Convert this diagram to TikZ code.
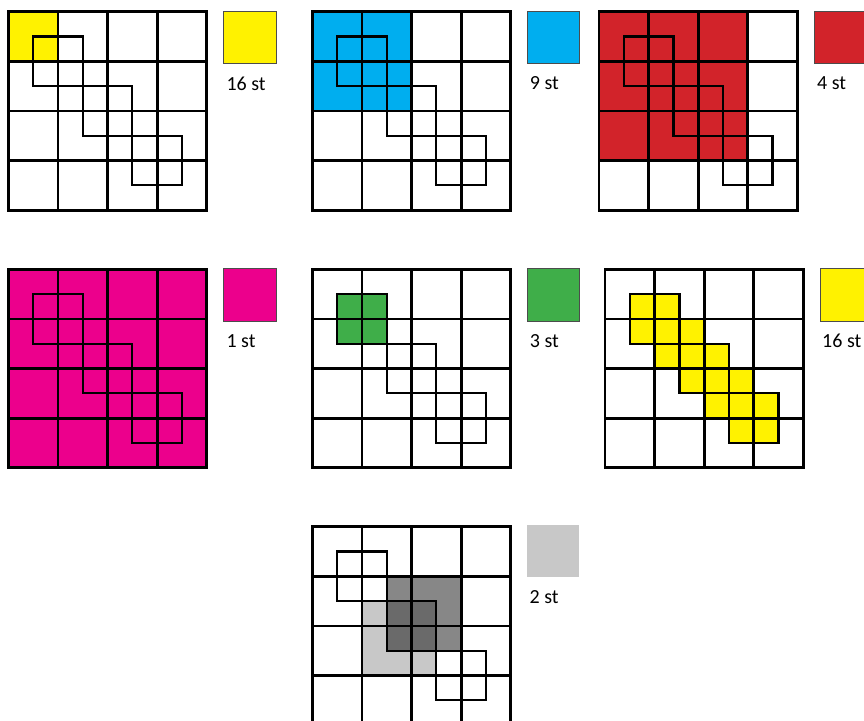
\documentclass[tikz,border=0pt]{standalone}
\usepackage{fontspec}
\setmainfont{Carlito}
\usepackage{xcolor}
\usetikzlibrary{positioning}

\definecolor{poolyellow}{HTML}{FFF200}
\definecolor{poolblue}{HTML}{00AEEF}
\definecolor{poolred}{HTML}{D2232A}
\definecolor{poolmagenta}{HTML}{EC008C}
\definecolor{poolgreen}{HTML}{3FAE49}
\definecolor{greylight}{HTML}{C8C8C8}
\definecolor{greymid}{HTML}{878787}
\definecolor{greydark}{HTML}{6A6A6A}

\begin{document}
\begin{tikzpicture}[
    x=1pt, y=-1pt,
    panel/.style={x=49.6pt, y=-49.6pt},
    gridline/.style={line width=2.8pt, line cap=rect},
    chainline/.style={line width=2.3pt},
    swatch/.style={anchor=north west, minimum size=52.5pt, inner sep=0pt,
                   draw=black!70, line width=0.8pt},
    lbl/.style={font=\fontsize{20}{24}\selectfont, inner sep=0pt},
  ]
  \useasboundingbox (0,0) rectangle (864,720);
  \clip (0,0) rectangle (864,720);

  % fills, one scope per panel
  \begin{scope}[shift={(8.3,11.7)}, panel]
    \fill[poolyellow] (0,0) rectangle (1,1);
  \end{scope}
  \begin{scope}[shift={(312.3,11.7)}, panel]
    \fill[poolblue] (0,0) rectangle (2,2);
  \end{scope}
  \begin{scope}[shift={(599,11.7)}, panel]
    \fill[poolred] (0,0) rectangle (3,3);
  \end{scope}
  \begin{scope}[shift={(8.3,269.3)}, panel]
    \fill[poolmagenta] (0,0) rectangle (4,4);
  \end{scope}
  \begin{scope}[shift={(312.3,269.3)}, panel]
    \fill[poolgreen] (0.5,0.5) rectangle (1.5,1.5);
  \end{scope}
  \begin{scope}[shift={(605,269.3)}, panel]
    % window slid by half a cell
    \foreach \k in {0,0.5,...,2}
      \fill[poolyellow] (0.5+\k,0.5+\k) rectangle ++(1,1);
  \end{scope}
  \begin{scope}[shift={(312.3,526.7)}, panel]
    \fill[greylight] (1,1.5) rectangle (2.5,3);
    \fill[greymid] (1.5,1) rectangle (3,2.5);
    \fill[greydark] (1.5,1.5) rectangle (2.5,2.5);
  \end{scope}

  % 4x4 grid and the chain of offset windows on every panel
  \foreach \gx/\gy in {8.3/11.7, 312.3/11.7, 599/11.7,
                       8.3/269.3, 312.3/269.3, 605/269.3, 312.3/526.7} {
    \begin{scope}[shift={(\gx,\gy)}, panel]
      \foreach \i in {0,...,4} {
        \draw[gridline] (\i,0) -- (\i,4);
        \draw[gridline] (0,\i) -- (4,\i);
      }
      \foreach \k in {0,1,2}
        \draw[chainline] (0.5+\k,0.5+\k) rectangle ++(1,1);
    \end{scope}
  }

  % swatches and strides
  \node[swatch, fill=poolyellow]  (swA) at (223.3,10.7) {};
  \node[swatch, fill=poolblue]    (swB) at (526.7,10.7) {};
  \node[swatch, fill=poolred]     (swC) at (814,10.7) {};
  \node[swatch, fill=poolmagenta] (swD) at (223.3,268.3) {};
  \node[swatch, fill=poolgreen]   (swE) at (526.7,268.3) {};
  \node[swatch, fill=poolyellow]  (swF) at (820,268.3) {};
  \node[swatch, fill=greylight, draw=none] (swG) at (526.5,524.3) {};

  \node[lbl, below right=12.5pt and 3pt of swA.south west] (lbA) {16 st};
  \node[lbl, below right=12.5pt and 3pt of swB.south west] (lbB) {9 st};
  \node[lbl, below right=12.5pt and 3pt of swC.south west] (lbC) {4 st};
  \node[lbl, below right=12.5pt and 3pt of swD.south west] (lbD) {1 st};
  \node[lbl, below right=12.5pt and 3pt of swE.south west] (lbE) {3 st};
  \node[lbl, below right=12.5pt and 2pt of swF.south west] (lbF) {16 st};
  \node[lbl, below right=12.5pt and 3pt of swG.south west] (lbG) {2 st};

\end{tikzpicture}
\end{document}
